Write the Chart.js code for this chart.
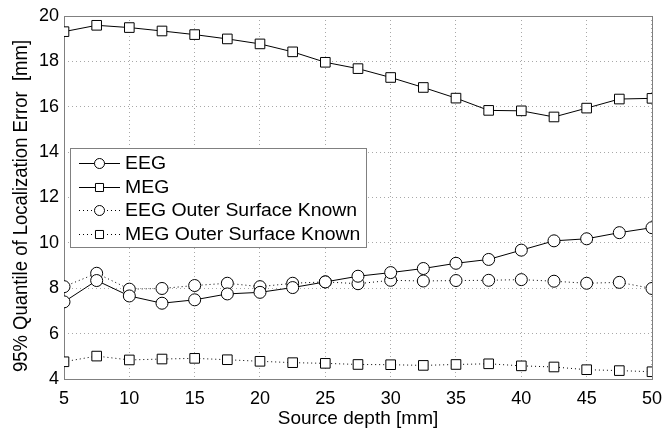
<!DOCTYPE html>
<html><head><meta charset="utf-8">
<script src="https://cdn.jsdelivr.net/npm/chart.js@4/dist/chart.umd.min.js"></script>
<style>html,body{margin:0;padding:0;background:#fff}canvas{display:block}</style>
</head><body>
<canvas id="c" width="671" height="428"></canvas>
<script>
const depths = [5,7.5,10,12.5,15,17.5,20,22.5,25,27.5,30,32.5,35,37.5,40,42.5,45,47.5,50];
const eeg = [7.40,8.34,7.66,7.34,7.49,7.75,7.82,8.03,8.28,8.53,8.69,8.87,9.10,9.27,9.68,10.09,10.18,10.45,10.67];
const meg = [19.31,19.59,19.49,19.34,19.18,18.99,18.77,18.42,17.96,17.68,17.29,16.85,16.38,15.84,15.82,15.55,15.94,16.34,16.37];
const eegOuter = [8.07,8.66,7.96,7.99,8.12,8.22,8.07,8.22,8.28,8.20,8.35,8.32,8.34,8.35,8.38,8.31,8.22,8.26,7.99];
const megOuter = [4.76,5.01,4.84,4.88,4.91,4.85,4.78,4.72,4.69,4.64,4.63,4.60,4.64,4.67,4.58,4.53,4.41,4.37,4.32];
const seriesLabels = ['EEG','MEG','EEG Outer Surface Known','MEG Outer Surface Known'];
const xTickValues = [5,10,15,20,25,30,35,40,45,50];
const yTickValues = [4,6,8,10,12,14,16,18,20];
const xTitle = 'Source depth [mm]';
const yTitle = '95% Quantile of Localization Error  [mm]';

const FONT = '"Liberation Sans", Arial, Helvetica, sans-serif';
const pts = arr => depths.map((d,i)=>({x:d,y:arr[i]}));

function mkDs(label, arr, style, dashed){
  const r = style==='circle' ? 6 : 6.8;
  return {
    label, data: pts(arr),
    borderColor:'#000', borderWidth:1, borderDash: dashed ? [1,3] : [],
    pointStyle: style, pointRadius: r, pointHoverRadius: r,
    pointBackgroundColor:'#fff', pointBorderColor:'#000', pointBorderWidth:1,
    tension:0, fill:false
  };
}

const frame = {
  id:'frame',
  beforeDatasetsDraw(chart){
    const {ctx, chartArea:a} = chart;
    ctx.save();
    ctx.strokeStyle='#808080'; ctx.lineWidth=1;
    ctx.strokeRect(Math.round(a.left)+0.5, Math.round(a.top)+0.5, Math.round(a.right-a.left), Math.round(a.bottom-a.top));
    // y axis title
    ctx.fillStyle='#000';
    ctx.font = '18.5px ' + FONT;
    ctx.textAlign='center'; ctx.textBaseline='middle';
    ctx.translate(21, 206);
    ctx.rotate(-Math.PI/2);
    ctx.scale(1, 1.1);
    ctx.fillText(yTitle, 0, 0);
    ctx.restore();
  }
};

const legendBox = {
  id:'legendBox',
  afterDatasetsDraw(chart){
    const ctx = chart.ctx;
    const x0=70, y0=148, w=296, h=99;
    ctx.save();
    ctx.fillStyle='#fff'; ctx.fillRect(x0,y0,w,h);
    ctx.strokeStyle='#808080'; ctx.lineWidth=1;
    ctx.strokeRect(x0+0.5,y0+0.5,w,h);
    chart.data.datasets.forEach((ds,i)=>{
      const cy = Math.round(163 + i*23.5)+0.5;
      ctx.strokeStyle='#000'; ctx.lineWidth=1;
      ctx.setLineDash(ds.borderDash||[]);
      ctx.beginPath(); ctx.moveTo(79,cy); ctx.lineTo(120,cy); ctx.stroke();
      ctx.setLineDash([]);
      ctx.fillStyle='#fff'; ctx.strokeStyle='#000';
      const r = ds.pointStyle==='circle' ? 5 : 5.7;
      Chart.helpers.drawPoint(ctx,{pointStyle:ds.pointStyle, radius:r, borderWidth:1, rotation:0}, 99.5, cy);
      ctx.save();
      ctx.fillStyle='#000';
      ctx.font = '17.5px ' + FONT;
      ctx.textBaseline='middle'; ctx.textAlign='left';
      ctx.translate(125, cy+0.5);
      ctx.scale(1.11, 1);
      ctx.fillText(ds.label, 0, 0);
      ctx.restore();
    });
    ctx.restore();
  }
};

new Chart(document.getElementById('c'), {
  type:'line',
  data:{ datasets:[
    mkDs(seriesLabels[0], eeg, 'circle', false),
    mkDs(seriesLabels[1], meg, 'rect', false),
    mkDs(seriesLabels[2], eegOuter, 'circle', true),
    mkDs(seriesLabels[3], megOuter, 'rect', true)
  ]},
  options:{
    responsive:false, animation:false,
    layout:{padding:{left:0, top:16, right:12, bottom:0}},
    plugins:{legend:{display:false}, tooltip:{enabled:false}},
    scales:{
      x:{
        type:'linear', min:5, max:50,
        afterBuildTicks: s => { s.ticks = xTickValues.map(v=>({value:v})); },
        afterFit: s => { s.height = 49; },
        grid:{color:'#a8a8a8', drawTicks:false, lineWidth:1},
        border:{display:false, dash:[1,3]},
        ticks:{color:'#000', font:{family:FONT, size:18}, padding:9, maxRotation:0, autoSkip:false},
        title:{display:true, text:xTitle, color:'#000', font:{family:FONT, size:19}, padding:{top:0,bottom:-2}}
      },
      y:{
        min:4, max:20,
        afterBuildTicks: s => { s.ticks = yTickValues.map(v=>({value:v})); },
        afterFit: s => { s.width = 64; },
        grid:{color:'#a8a8a8', drawTicks:false, lineWidth:1},
        border:{display:false, dash:[1,3]},
        ticks:{color:'#000', font:{family:FONT, size:18}, padding:5, autoSkip:false},
        title:{display:false}
      }
    }
  },
  plugins:[frame, legendBox]
});
</script>
</body></html>
